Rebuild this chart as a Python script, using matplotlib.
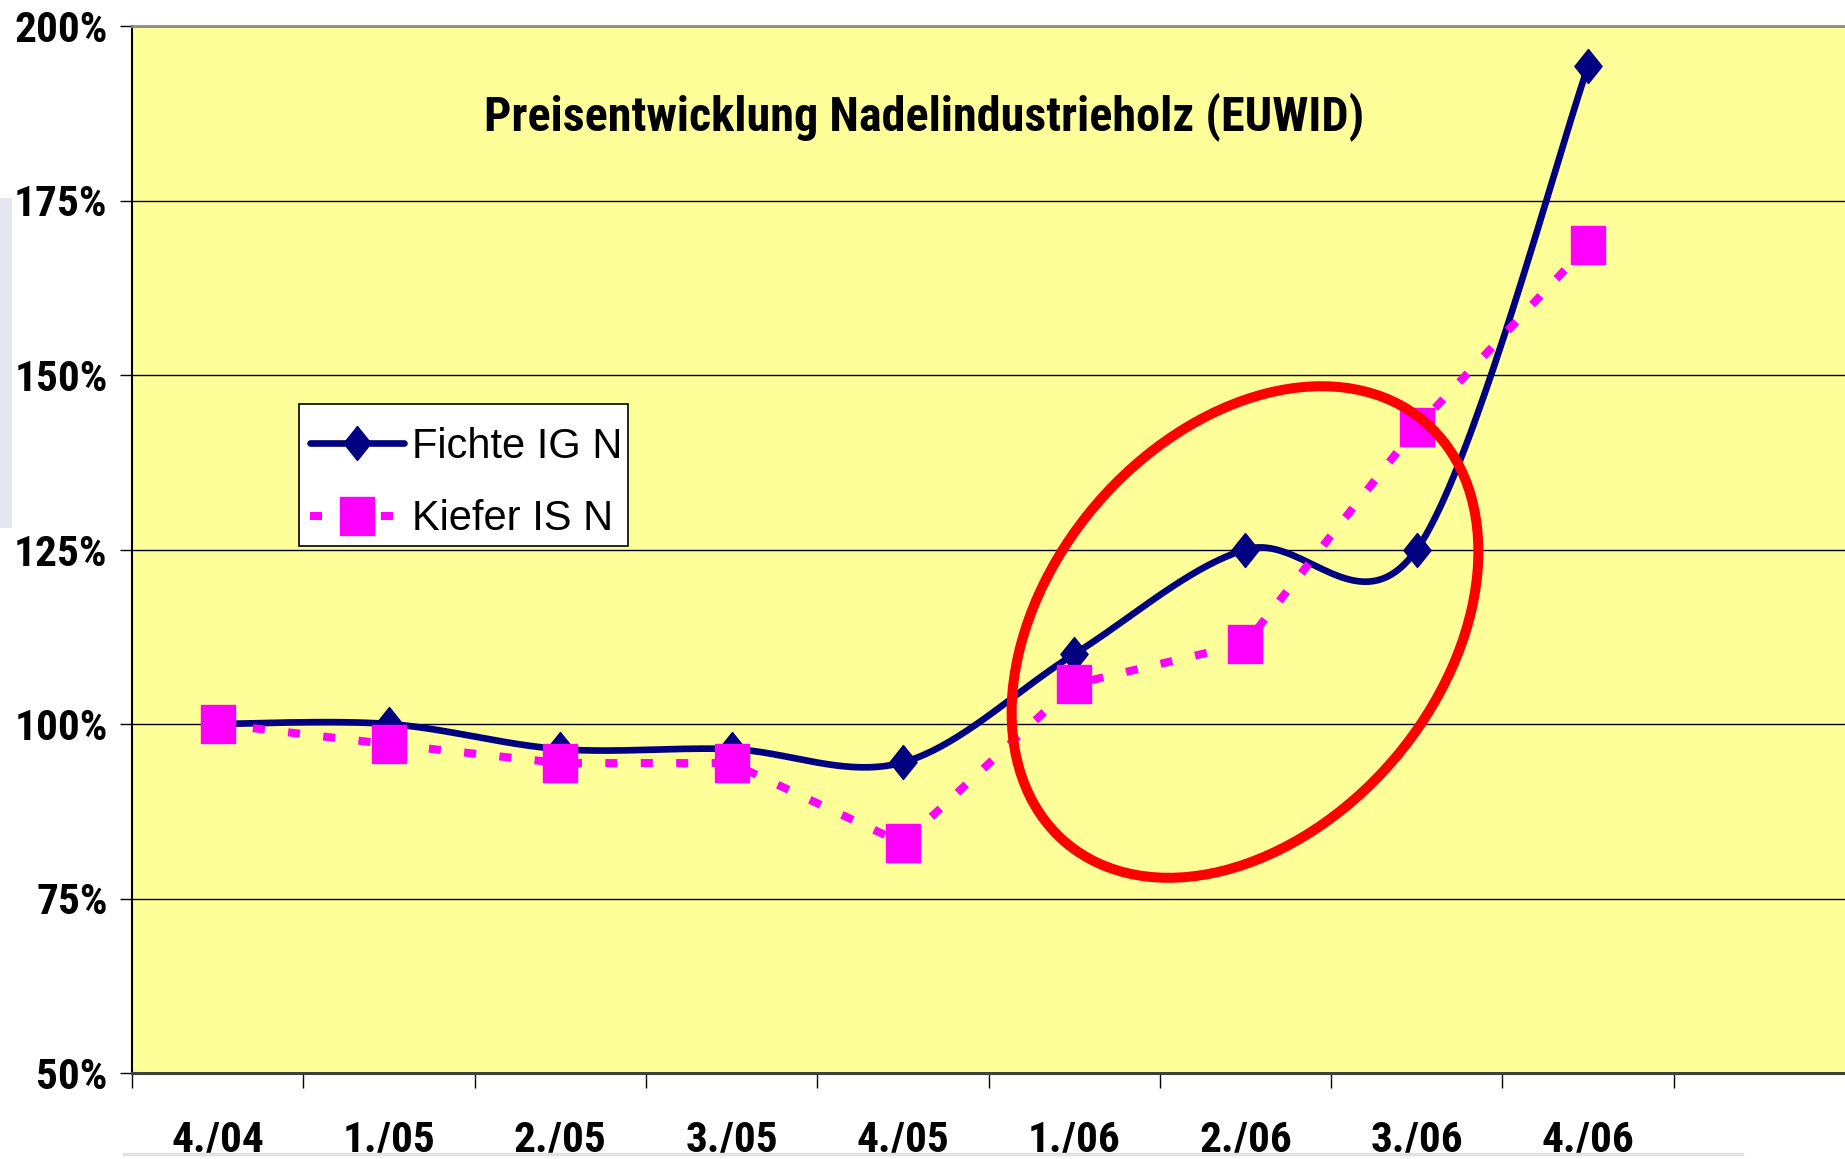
import numpy as np
import matplotlib
matplotlib.use("Agg")
import matplotlib.pyplot as plt
from matplotlib.path import Path
from matplotlib.patches import Ellipse, Rectangle
from matplotlib import font_manager
from matplotlib.font_manager import FontProperties

quarters = ["4./04", "1./05", "2./05", "3./05", "4./05", "1./06", "2./06", "3./06", "4./06"]
fichte = [100, 100, 96.4, 96.4, 94.5, 110, 125, 125, 194.2]
kiefer = [100, 97.1, 94.4, 94.4, 82.9, 105.7, 111.5, 142.5, 168.6]
yticks = [50, 75, 100, 125, 150, 175, 200]
title = "Preisentwicklung Nadelindustrieholz (EUWID)"

W, H = 1845, 1159
plt.rcParams["font.family"] = "Liberation Sans"


def _w(f):
    if isinstance(f.weight, int):
        return f.weight
    return font_manager.weight_dict.get(f.weight, 400)


def narrow_bold():
    # the original uses arial narrow bold; take a condensed face if there is one
    fonts = font_manager.fontManager.ttflist
    prefs = ["Liberation Sans Narrow", "Arial Narrow", "Roboto Condensed",
             "Noto Sans Condensed", "Open Sans Condensed", "DejaVu Sans Condensed"]
    for name in prefs:
        for f in fonts:
            if f.name == name and _w(f) >= 600 and f.style == "normal":
                return f.fname
    for f in fonts:
        if (f.stretch in ("condensed", "semi-condensed")
                and f.name in ("DejaVu Sans", "Noto Sans", "Liberation Sans", "Roboto", "Open Sans")
                and _w(f) >= 600 and f.style == "normal"):
            return f.fname
    return None


fpath = narrow_bold()
if fpath:
    bold_fp = FontProperties(fname=fpath)
else:
    bold_fp = FontProperties(family="Liberation Sans", weight="bold")


def smooth(y, n=40):
    # excel style smoothed line (catmull-rom)
    x = np.arange(len(y), dtype=float)
    y = np.asarray(y, dtype=float)
    xp = np.concatenate([[x[0]], x, [x[-1]]])
    yp = np.concatenate([[y[0]], y, [y[-1]]])
    t = np.linspace(0, 1, n, endpoint=False)
    h00 = 2*t**3 - 3*t**2 + 1
    h10 = t**3 - 2*t**2 + t
    h01 = -2*t**3 + 3*t**2
    h11 = t**3 - t**2
    xs, ys = [], []
    for i in range(len(y) - 1):
        for p, out in ((xp, xs), (yp, ys)):
            m0 = (p[i+2] - p[i]) / 2
            m1 = (p[i+3] - p[i+1]) / 2
            out.append(h00*p[i+1] + h10*m0 + h01*p[i+2] + h11*m1)
    xs.append([x[-1]])
    ys.append([y[-1]])
    return np.concatenate(xs), np.concatenate(ys), n


diamond = Path([(0, 1), (0.8, 0), (0, -1), (-0.8, 0), (0, 1)], closed=True)
square = Path([(-0.85, -1), (0.85, -1), (0.85, 1), (-0.85, 1), (-0.85, -1)], closed=True)

fig = plt.figure(figsize=(W/100, H/100), dpi=100)
ax = fig.add_axes([132/W, 1 - 1073/H, 1 - 132/W, (1073 - 26)/H])
ax.set_facecolor("#FFFF99")

sx, sy, n = smooth(fichte)
ax.plot(sx, sy, color="#000080", lw=4.8, marker=diamond, markersize=24.5,
        markevery=list(range(0, len(sx), n)), solid_capstyle="round",
        label="Fichte IG N", zorder=3)
ax.plot(range(len(kiefer)), kiefer, color="#FF00FF", lw=5.8, ls=(0, (1.5, 2.9)),
        dash_capstyle="butt", marker=square, markersize=28,
        label="Kiefer IS N", zorder=4)

ax.set_xlim(-0.5, 9.5)
ax.set_ylim(50, 200)
ax.set_yticks(yticks)
ax.set_yticklabels([f"{v}%" for v in yticks])
ax.set_xticks(range(len(quarters)))
ax.set_xticklabels(quarters)
ax.set_xticks(np.arange(-0.5, 9, 1), minor=True)
ax.tick_params(axis="x", which="major", length=0, pad=34)
ax.tick_params(axis="x", which="minor", length=10.8, width=1, color="black")
ax.tick_params(axis="y", length=8.6, width=1, color="black", pad=9)
ax.yaxis.grid(True, color="black", lw=1)
ax.set_axisbelow(True)

ax.spines["right"].set_visible(False)
ax.spines["left"].set_linewidth(1.5)
ax.spines["bottom"].set_color("#404040")
ax.spines["bottom"].set_linewidth(2.2)
ax.spines["top"].set_color("#8C8C8C")
ax.spines["top"].set_linewidth(2)

# overlay in pixel coordinates for the title and the hand drawn marks
ov = fig.add_axes([0, 0, 1, 1], zorder=10)
ov.set_xlim(0, W)
ov.set_ylim(H, 0)
ov.axis("off")
ov.patch.set_alpha(0)

# legend: own white box, entries placed inside it
box = Rectangle((299, 404), 329, 142, transform=ov.transData, facecolor="white",
                edgecolor="black", lw=1.2, zorder=6, clip_on=False)
ax.add_patch(box)
leg = ax.legend(loc="center left", bbox_to_anchor=(310/W, 1 - 483/H),
                bbox_transform=fig.transFigure, fontsize=30, frameon=False,
                borderpad=0, labelspacing=0.79, handlelength=2.25,
                handletextpad=0.2, borderaxespad=0)
leg.set_zorder(7)

ttl = ov.text(924, 130, title, ha="center", va="baseline", fontproperties=bold_fp)
ov.add_patch(Ellipse((1245, 632), 553, 392, angle=-49.5, fill=False,
                     edgecolor="#FF0000", lw=7.2))
ov.add_patch(Rectangle((0, 198), 12, 330, color="#E6E6F2", lw=0))
ov.plot([124, 1742], [1154, 1154], color="#E2E2E2", lw=2.5)

# size the text to the widths in the original
renderer = fig.canvas.get_renderer()
ttl.set_fontsize(30)
tw = ttl.get_window_extent(renderer).width
ttl.set_fontsize(min(36, 30 * 881 / tw))

labels = ax.get_yticklabels() + ax.get_xticklabels()
for lab in labels:
    lab.set_fontproperties(bold_fp)
    lab.set_fontsize(26)
lw_ = ax.get_yticklabels()[-1].get_window_extent(renderer).width
tick_size = min(32, 26 * 94 / lw_)
for lab in labels:
    lab.set_fontsize(tick_size)

fig.savefig("out.png", dpi=100)
